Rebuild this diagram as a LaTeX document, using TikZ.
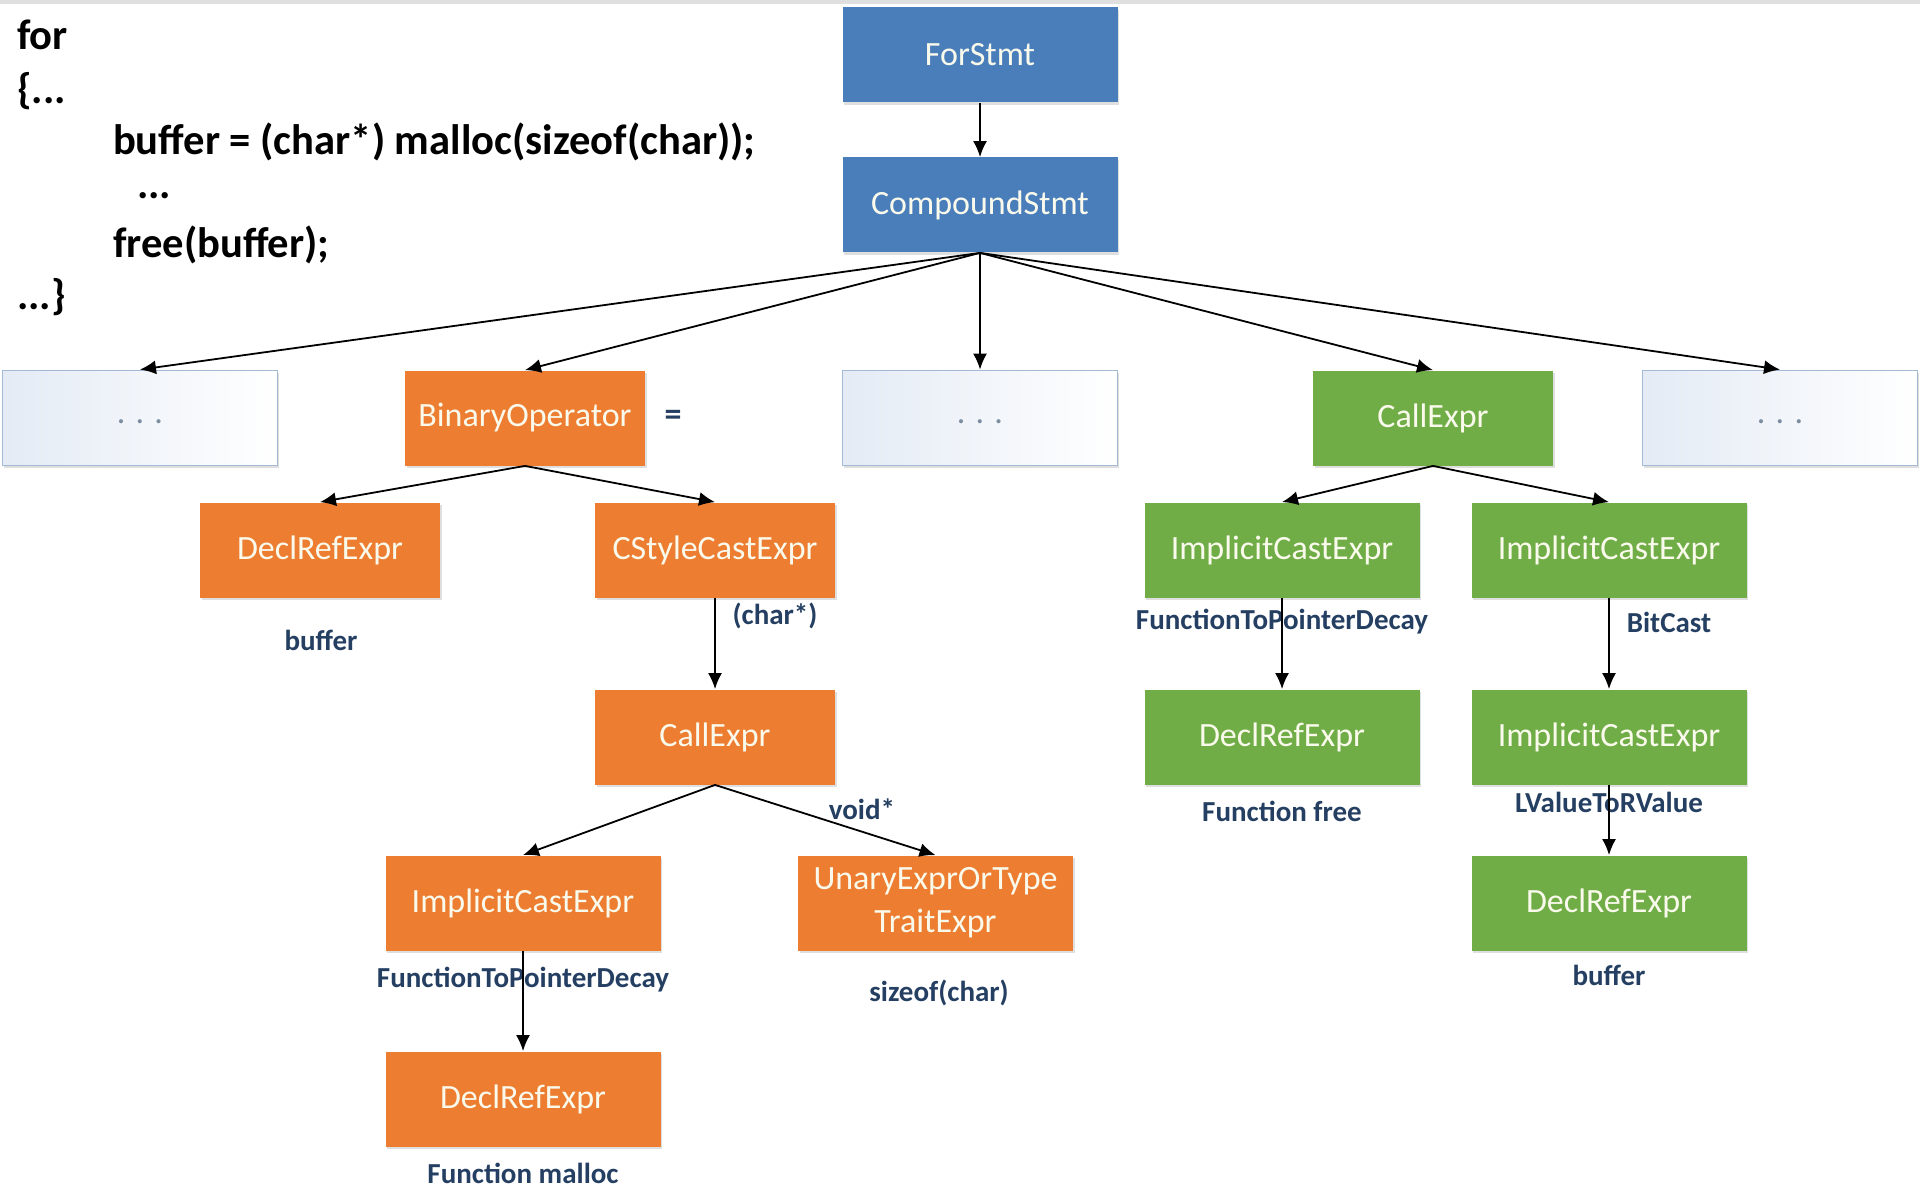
\documentclass[tikz,border=0pt]{standalone}
\usepackage{fontspec}
\setmainfont{Carlito}
\usetikzlibrary{arrows.meta,shadows}

\definecolor{stmtblue}{HTML}{4A7EBB}
\definecolor{exprorange}{HTML}{ED7D31}
\definecolor{exprgreen}{HTML}{70AD47}
\definecolor{labelnavy}{HTML}{243F62}
\definecolor{dotsedge}{HTML}{A3BAD6}
\definecolor{dotsfill}{HTML}{E4EBF5}
\definecolor{boxtext}{HTML}{FAFAEC}

\newcommand{\lowdots}{\raisebox{-2.8pt}[0pt][0pt]{. . .}}

\tikzset{
  astnode/.style={minimum width=120pt, minimum height=47.5pt, inner sep=0pt,
    text=boxtext, font=\fontsize{17}{19}\selectfont, align=center,
    drop shadow={opacity=0.25, shadow xshift=0.8pt, shadow yshift=-1.2pt}},
  widenode/.style={astnode, minimum width=137.5pt},
  stmtnode/.style={widenode, fill=stmtblue},
  orangenode/.style={astnode, fill=exprorange},
  orangewide/.style={widenode, fill=exprorange},
  greennode/.style={astnode, fill=exprgreen},
  greenwide/.style={widenode, fill=exprgreen},
  dotsnode/.style={widenode, draw=dotsedge, line width=0.9pt,
    left color=dotsfill, right color=white, text=labelnavy!60},
  attr/.style={text=labelnavy, font=\bfseries\fontsize{14.5}{16}\selectfont},
  codeline/.style={anchor=west, font=\bfseries\fontsize{21.3}{24}\selectfont},
  edge/.style={-{Latex[width=7pt,length=8pt]}, line width=0.9pt}
}

\begin{document}
\begin{tikzpicture}[x=0.5pt, y=-0.5pt]
  \useasboundingbox (0,0) rectangle (1920,1187);
  \fill[gray!25] (0,0) rectangle (1920,4);

  %% source code
  \node[codeline] (for) at (10, 35) {for};
  \node[codeline] (open) at (10, 91) {\{...};
  \node[codeline] (assign) at (106, 142) {buffer = (char*) malloc(sizeof(char));};
  \node[codeline] (skip) at (130, 196) {...};
  \node[codeline] (free) at (106, 245) {free(buffer);};
  \node[codeline] (close) at (10, 297) {...\}};

  %% statements
  \node[stmtnode] (for stmt) at (980, 55) {ForStmt};
  \node[stmtnode] (compound) at (980, 205) {CompoundStmt};

  %% children of the compound statement
  \node[dotsnode] (dots left) at (140, 418) {\lowdots};
  \node[orangenode] (binop) at (525, 418) {BinaryOperator};
  \node[dotsnode] (dots mid) at (980, 418) {\lowdots};
  \node[greennode] (call free) at (1433, 418) {CallExpr};
  \node[dotsnode] (dots right) at (1780, 418) {\lowdots};
  \node[attr, font=\bfseries\fontsize{17}{19}\selectfont] (op) at (673, 418) {=};

  %% malloc branch
  \node[orangenode] (lhs) at (320, 550) {DeclRefExpr};
  \node[orangenode] (cast) at (715, 550) {CStyleCastExpr};
  \node[orangenode] (call malloc) at (715, 737) {CallExpr};
  \node[orangewide] (malloc cast) at (523, 903) {ImplicitCastExpr};
  \node[orangewide] (sizeof) at (935.5, 903) {UnaryExprOrType\\[2.4pt]TraitExpr};
  \node[orangewide] (malloc ref) at (523, 1099) {DeclRefExpr};

  %% free branch
  \node[greenwide] (free cast) at (1282, 550) {ImplicitCastExpr};
  \node[greenwide] (arg cast) at (1609, 550) {ImplicitCastExpr};
  \node[greenwide] (free ref) at (1282, 737) {DeclRefExpr};
  \node[greenwide] (rvalue cast) at (1609, 737) {ImplicitCastExpr};
  \node[greenwide] (buffer ref) at (1609, 903) {DeclRefExpr};

  %% attributes
  \node[attr] (lhs name) at (321, 640) {buffer};
  \node[attr] (cast type) at (775, 616) {(char*)};
  \node[attr] (call type) at (862, 809) {void*};
  \node[attr] (decay a) at (523, 980) {FunctionToPointerDecay};
  \node[attr] (sizeof arg) at (939, 993) {sizeof(char)};
  \node[attr] (malloc name) at (523, 1173) {Function malloc};
  \node[attr] (decay b) at (1282, 622) {FunctionToPointerDecay};
  \node[attr] (bitcast) at (1669, 622) {BitCast};
  \node[attr] (free name) at (1282, 811) {Function free};
  \node[attr] (lvalue) at (1609, 802) {LValueToRValue};
  \node[attr] (buffer name) at (1609, 975) {buffer};

  %% arrows
  \draw[edge] (for stmt) -- (compound);
  \foreach \kid in {dots left, binop, dots mid, call free, dots right}
    \draw[edge] (compound.south) -- (\kid.north);
  \draw[edge] (binop.south) -- (lhs.north);
  \draw[edge] (binop.south) -- (cast.north);
  \draw[edge] (cast) -- (call malloc);
  \draw[edge] (call malloc.south) -- (malloc cast.north);
  \draw[edge] (call malloc.south) -- (sizeof.north);
  \draw[edge] (malloc cast) -- (malloc ref);
  \draw[edge] (call free.south) -- (free cast.north);
  \draw[edge] (call free.south) -- (arg cast.north);
  \draw[edge] (free cast) -- (free ref);
  \draw[edge] (arg cast) -- (rvalue cast);
  \draw[edge] (rvalue cast) -- (buffer ref);
\end{tikzpicture}
\end{document}
